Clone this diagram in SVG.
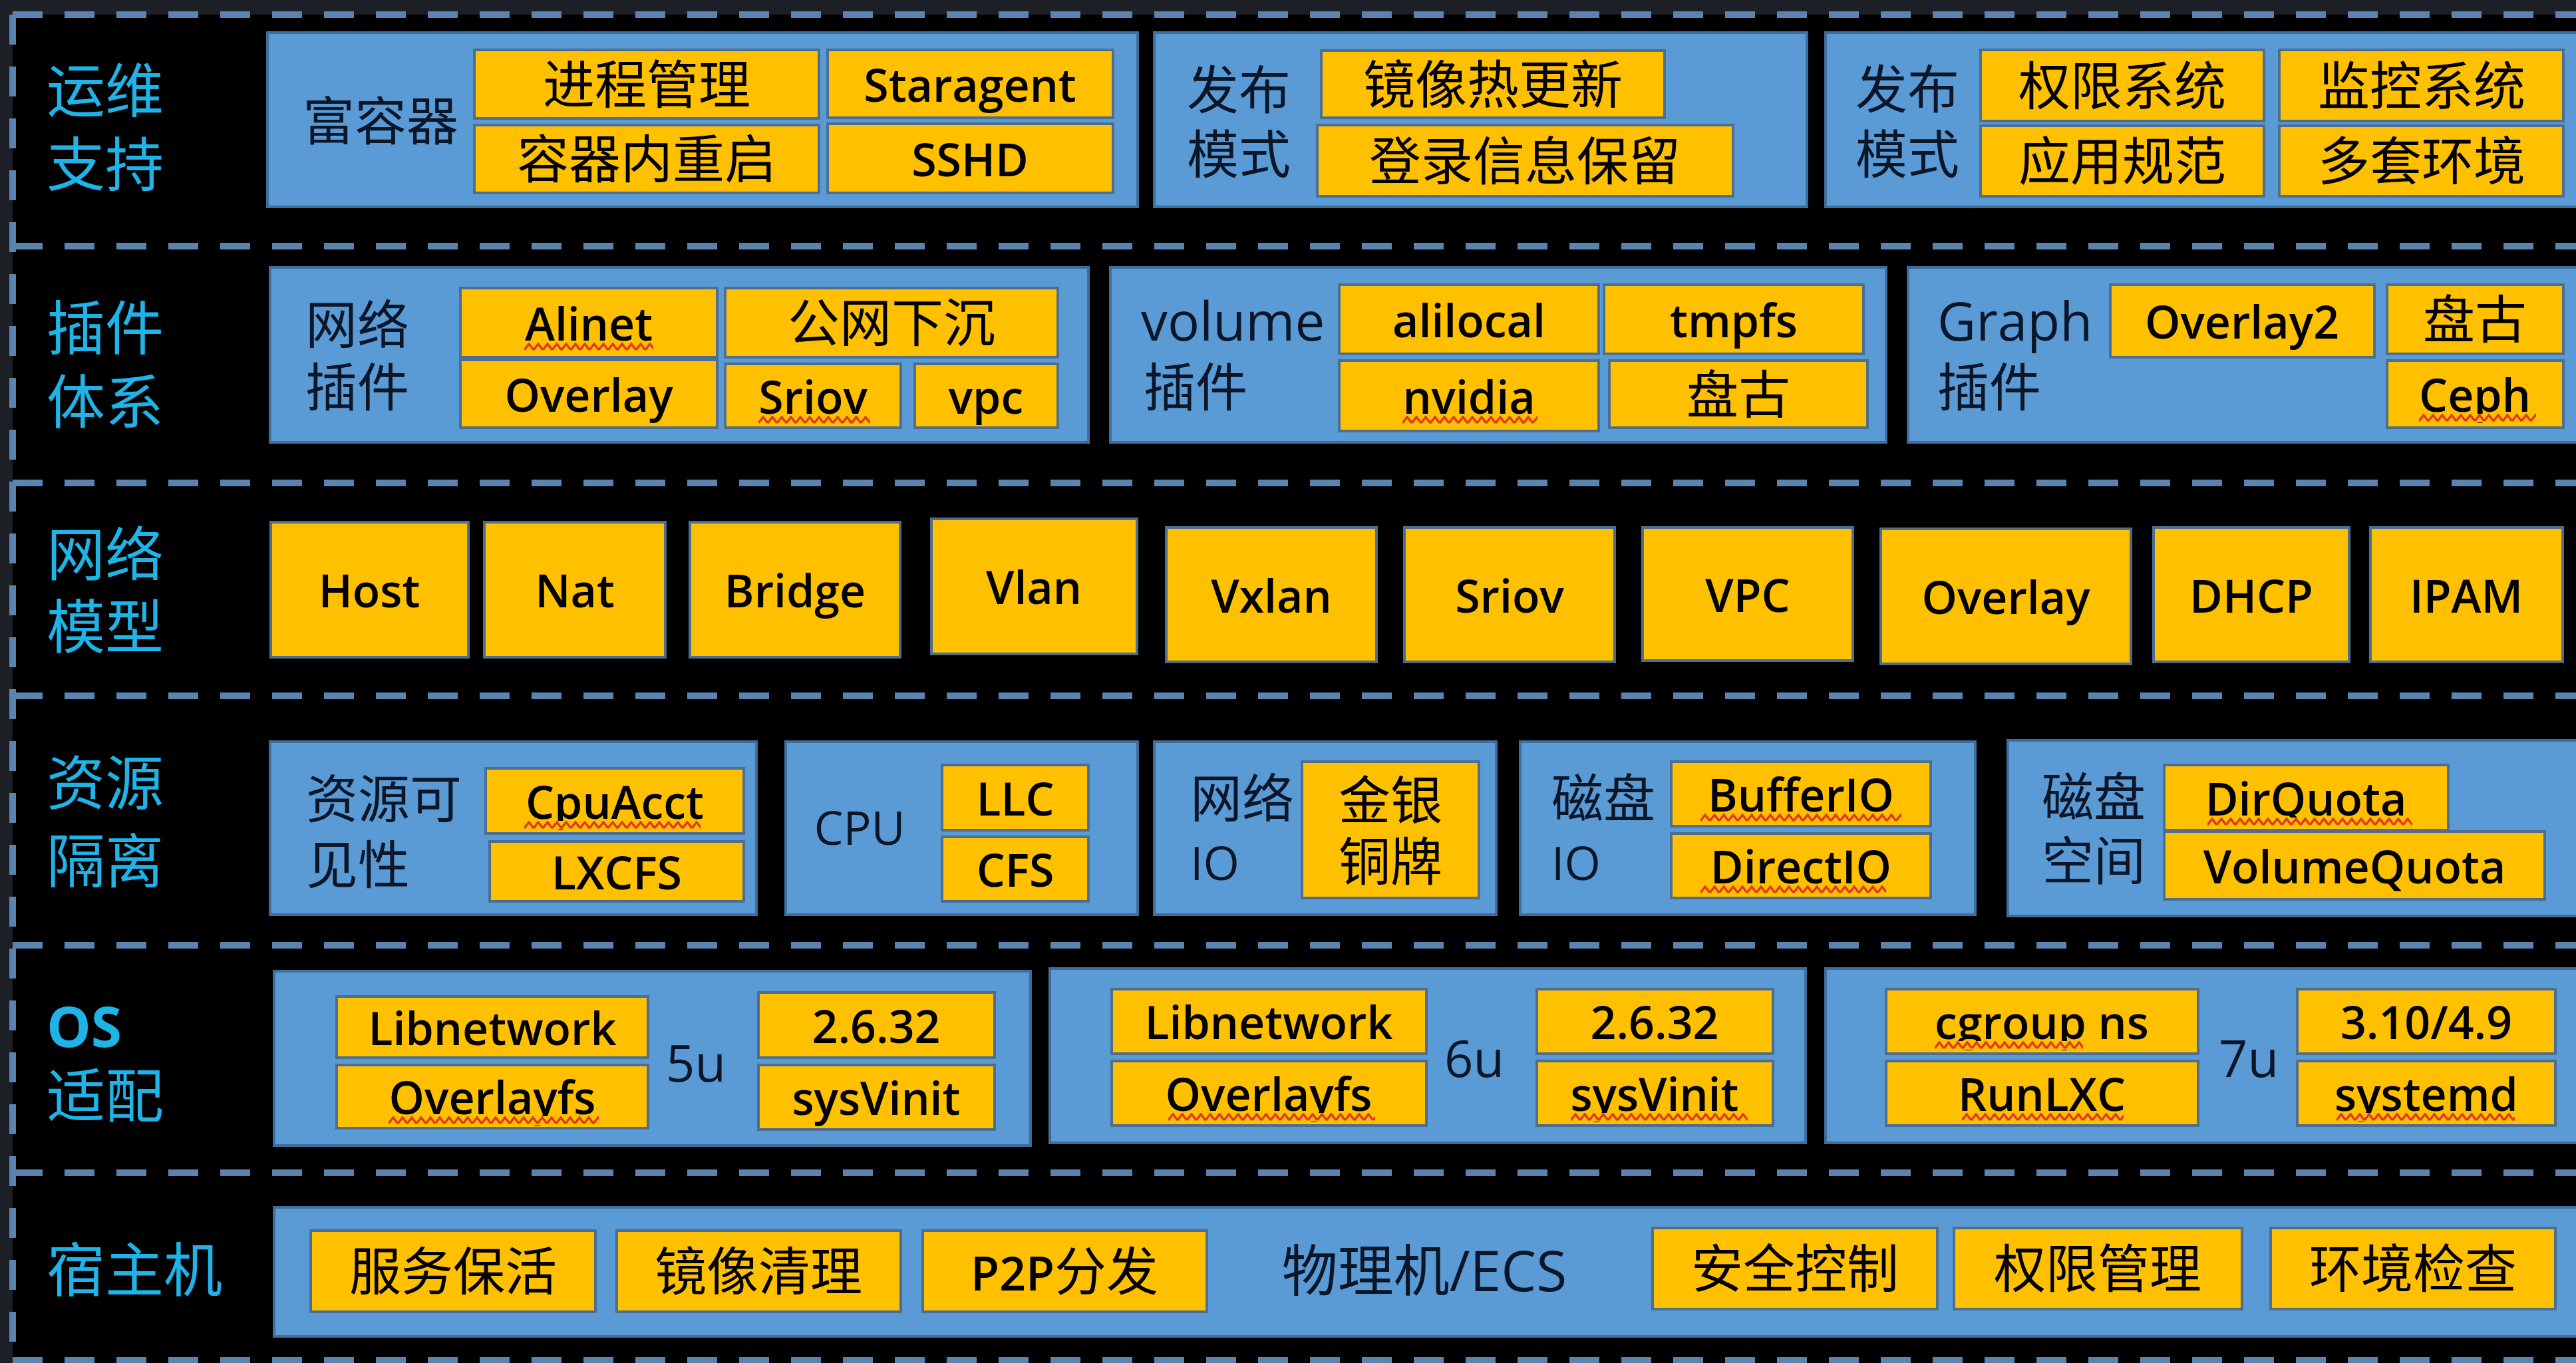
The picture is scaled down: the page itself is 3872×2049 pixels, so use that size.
<svg xmlns="http://www.w3.org/2000/svg" width="3872" height="2049" viewBox="0 0 3872 2049">
<defs>
<style>
.panel{fill:#5b9bd5;stroke:#3f6e9c;stroke-width:4}
.box{fill:#ffc000;stroke:#4b6e92;stroke-width:4}
.sec{font-family:'Noto Sans CJK SC',sans-serif;font-size:88px;fill:#1fb3e8}
.secb{font-family:'Open Sans','Noto Sans CJK SC',sans-serif;font-size:84px;font-weight:700;fill:#1fb3e8}
.lbl{font-family:'Open Sans','Noto Sans CJK SC',sans-serif;font-size:78px;fill:#0b1628}
.lbll{font-family:'Open Sans','Noto Sans CJK SC',sans-serif;font-size:80px;font-weight:500;fill:#0b1628}
.c{font-family:'Noto Sans CJK SC',sans-serif;font-size:78px;fill:#000;text-anchor:middle}
.l{font-family:'Open Sans','Noto Sans CJK SC',sans-serif;font-size:68px;font-weight:600;fill:#000;text-anchor:middle}
.lt{font-family:'Open Sans',sans-serif;font-size:70px;font-weight:600}
.sep{stroke:#5a83b0;stroke-width:10;stroke-dasharray:45 33;fill:none}
</style>
<pattern id="sq" patternUnits="userSpaceOnUse" width="14" height="13">
<rect width="14" height="13" fill="#ffc000"/>
<polyline points="0,11 7,2 14,11" fill="none" stroke="#e2391e" stroke-width="3.5"/>
</pattern>
</defs>
<rect width="3872" height="2049" fill="#1d1f26"/>
<rect x="19" y="22" width="3853" height="2027" fill="#000"/>

<g id="separators" class="sep">
<path d="M19 22H3872M19 370H3872M19 726H3872M19 1046H3872M19 1421H3872M19 1763H3872M19 2045H3872M19 22V2049"/>
</g>

<!-- Row 1 -->
<g id="sec-ops"><text class="sec" x="70" y="168">运维</text><text class="sec" x="70" y="279">支持</text></g>
<g id="rich-container">
<rect class="panel" x="402" y="49" width="1308" height="262"/>
<text class="lbl" x="572" y="211" text-anchor="middle">富容器</text>
<rect class="box" x="713" y="75" width="518" height="103"/><text class="c" x="972" y="156">进程管理</text>
<rect class="box" x="713" y="188" width="518" height="102"/><text class="c" x="972" y="268">容器内重启</text>
<rect class="box" x="1244" y="75" width="429" height="102"/><text class="l" x="1458" y="153">Staragent</text>
<rect class="box" x="1244" y="186" width="429" height="104"/><text class="l" x="1458" y="265">SSHD</text>
</g>
<g id="release-mode-1">
<rect class="panel" x="1735" y="49" width="981" height="262"/>
<text class="lbl" x="1862" y="164" text-anchor="middle">发布</text>
<text class="lbl" x="1862" y="261" text-anchor="middle">模式</text>
<rect class="box" x="1986" y="76" width="516" height="101"/><text class="c" x="2244" y="156">镜像热更新</text>
<rect class="box" x="1980" y="188" width="625" height="107"/><text class="c" x="2292" y="271">登录信息保留</text>
</g>
<g id="release-mode-2">
<rect class="panel" x="2744" y="49" width="1140" height="262"/>
<text class="lbl" x="2867" y="163" text-anchor="middle">发布</text>
<text class="lbl" x="2867" y="261" text-anchor="middle">模式</text>
<rect class="box" x="2977" y="75" width="426" height="107"/><text class="c" x="3190" y="158">权限系统</text>
<rect class="box" x="3426" y="75" width="427" height="107"/><text class="c" x="3640" y="158">监控系统</text>
<rect class="box" x="2977" y="189" width="426" height="106"/><text class="c" x="3190" y="271">应用规范</text>
<rect class="box" x="3426" y="189" width="427" height="106"/><text class="c" x="3640" y="271">多套环境</text>
</g>

<!-- Row 2 -->
<g id="sec-plugin"><text class="sec" x="70" y="525">插件</text><text class="sec" x="70" y="636">体系</text></g>
<g id="net-plugin">
<rect class="panel" x="406" y="402" width="1230" height="263"/>
<text class="lbl" x="537" y="517" text-anchor="middle">网络</text>
<text class="lbl" x="537" y="611" text-anchor="middle">插件</text>
<rect class="box" x="692" y="433" width="386" height="104"/><text class="l" x="885" y="512">Alinet</text>
<rect transform="translate(788,515)" width="194" height="13" fill="url(#sq)"/>
<rect class="box" x="692" y="541" width="386" height="102"/><text class="l" x="885" y="619">Overlay</text>
<rect class="box" x="1090" y="433" width="500" height="104"/><text class="c" x="1340" y="514">公网下沉</text>
<rect class="box" x="1090" y="547" width="264" height="96"/><text class="l" x="1222" y="622">Sriov</text>
<rect transform="translate(1140,625)" width="168" height="13" fill="url(#sq)"/>
<rect class="box" x="1375" y="547" width="215" height="96"/><text class="l" x="1482" y="622">vpc</text>
</g>
<g id="volume-plugin">
<rect class="panel" x="1669" y="402" width="1166" height="263"/>
<text class="lbll" x="1715" y="512">volume</text>
<text class="lbl" x="1719" y="611">插件</text>
<rect class="box" x="2013" y="428" width="390" height="104"/><text class="l" x="2208" y="507">alilocal</text>
<rect class="box" x="2013" y="542" width="390" height="106"/><text class="l" x="2208" y="622">nvidia</text>
<rect transform="translate(2108,625)" width="203" height="13" fill="url(#sq)"/>
<rect class="box" x="2411" y="428" width="390" height="104"/><text class="l" x="2606" y="507">tmpfs</text>
<rect class="box" x="2419" y="542" width="388" height="101"/><text class="c" x="2613" y="622">盘古</text>
</g>
<g id="graph-plugin">
<rect class="panel" x="2868" y="402" width="1016" height="263"/>
<text class="lbll" x="2912" y="512">Graph</text>
<text class="lbl" x="2912" y="611">插件</text>
<rect class="box" x="3172" y="428" width="397" height="109"/><text class="l" x="3370" y="509">Overlay2</text>
<rect class="box" x="3588" y="428" width="265" height="104"/><text class="c" x="3720" y="509">盘古</text>
<rect class="box" x="3588" y="542" width="265" height="101"/><text class="l" x="3720" y="619">Ceph</text>
<rect transform="translate(3636,622)" width="176" height="13" fill="url(#sq)"/>
</g>

<!-- Row 3 -->
<g id="sec-netmodel"><text class="sec" x="70" y="865">网络</text><text class="sec" x="70" y="974">模型</text></g>
<g id="nm-host"><rect class="box" x="407" y="785" width="297" height="203"/><text class="l" x="555" y="913">Host</text></g>
<g id="nm-nat"><rect class="box" x="728" y="785" width="272" height="203"/><text class="l" x="864" y="913">Nat</text></g>
<g id="nm-bridge"><rect class="box" x="1037" y="785" width="316" height="203"/><text class="l" x="1195" y="913">Bridge</text></g>
<g id="nm-vlan"><rect class="box" x="1400" y="780" width="309" height="203"/><text class="l" x="1554" y="908">Vlan</text></g>
<g id="nm-vxlan"><rect class="box" x="1753" y="793" width="316" height="202"/><text class="l" x="1911" y="921">Vxlan</text></g>
<g id="nm-sriov"><rect class="box" x="2111" y="793" width="316" height="202"/><text class="l" x="2269" y="921">Sriov</text></g>
<g id="nm-vpc"><rect class="box" x="2469" y="793" width="316" height="200"/><text class="l" x="2627" y="920">VPC</text></g>
<g id="nm-overlay"><rect class="box" x="2827" y="795" width="376" height="203"/><text class="l" x="3015" y="923">Overlay</text></g>
<g id="nm-dhcp"><rect class="box" x="3237" y="793" width="294" height="202"/><text class="l" x="3384" y="921">DHCP</text></g>
<g id="nm-ipam"><rect class="box" x="3563" y="793" width="289" height="202"/><text class="l" x="3707" y="921">IPAM</text></g>

<!-- Row 4 -->
<g id="sec-isolation"><text class="sec" x="70" y="1209">资源</text><text class="sec" x="70" y="1326">隔离</text></g>
<g id="res-visibility">
<rect class="panel" x="406" y="1115" width="731" height="260"/>
<text class="lbl" x="460" y="1230">资源可</text>
<text class="lbl" x="460" y="1329">见性</text>
<rect class="box" x="730" y="1155" width="388" height="98"/><text class="l" x="924" y="1231">CpuAcct</text>
<rect transform="translate(788,1234)" width="265" height="13" fill="url(#sq)"/>
<rect class="box" x="736" y="1265" width="382" height="90"/><text class="l" x="927" y="1337">LXCFS</text>
</g>
<g id="cpu">
<rect class="panel" x="1181" y="1115" width="529" height="260"/>
<text class="lbll" x="1292" y="1270" text-anchor="middle" style="font-size:70px">CPU</text>
<rect class="box" x="1416" y="1150" width="220" height="98"/><text class="l" x="1526" y="1226">LLC</text>
<rect class="box" x="1416" y="1258" width="220" height="97"/><text class="l" x="1526" y="1333">CFS</text>
</g>
<g id="net-io">
<rect class="panel" x="1735" y="1115" width="514" height="260"/>
<text class="lbl" x="1789" y="1229">网络</text>
<text class="lbll" x="1789" y="1323" style="font-size:70px">IO</text>
<rect class="box" x="1957" y="1145" width="266" height="205"/>
<text class="c" x="2090" y="1232">金银</text>
<text class="c" x="2090" y="1324">铜牌</text>
</g>
<g id="disk-io">
<rect class="panel" x="2285" y="1115" width="684" height="260"/>
<text class="lbl" x="2332" y="1229">磁盘</text>
<text class="lbll" x="2332" y="1323" style="font-size:70px">IO</text>
<rect class="box" x="2512" y="1145" width="390" height="97"/><text class="l" x="2707" y="1220">BufferIO</text>
<rect transform="translate(2556,1223)" width="302" height="13" fill="url(#sq)"/>
<rect class="box" x="2512" y="1253" width="390" height="97"/><text class="l" x="2707" y="1328">DirectIO</text>
<rect transform="translate(2556,1331)" width="279" height="13" fill="url(#sq)"/>
</g>
<g id="disk-space">
<rect class="panel" x="3018" y="1113" width="866" height="264"/>
<text class="lbl" x="3069" y="1227">磁盘</text>
<text class="lbl" x="3069" y="1323">空间</text>
<rect class="box" x="3253" y="1150" width="427" height="98"/><text class="l" x="3466" y="1226">DirQuota</text>
<rect transform="translate(3318,1229)" width="308" height="13" fill="url(#sq)"/>
<rect class="box" x="3253" y="1250" width="572" height="102"/><text class="l" x="3539" y="1328">VolumeQuota</text>
</g>

<!-- Row 5 -->
<g id="sec-os"><text class="secb" x="70" y="1574">OS</text><text class="sec" x="70" y="1679">适配</text></g>
<g id="os-5u">
<rect class="panel" x="412" y="1460" width="1137" height="262"/>
<rect class="box" x="506" y="1498" width="468" height="92"/><text class="l" x="740" y="1571">Libnetwork</text>
<rect class="box" x="506" y="1601" width="468" height="95"/><text class="l" x="740" y="1675">Overlayfs</text>
<rect transform="translate(584,1678)" width="316" height="13" fill="url(#sq)"/>
<text class="lbll" x="1046" y="1626" text-anchor="middle" style="font-size:76px">5u</text>
<rect class="box" x="1140" y="1492" width="355" height="98"/><text class="l" x="1317" y="1568">2.6.32</text>
<rect class="box" x="1140" y="1601" width="355" height="97"/><text class="l" x="1317" y="1676">sysVinit</text>
</g>
<g id="os-6u">
<rect class="panel" x="1578" y="1456" width="1136" height="262"/>
<rect class="box" x="1671" y="1487" width="473" height="97"/><text class="l" x="1907" y="1562">Libnetwork</text>
<rect class="box" x="1671" y="1595" width="473" height="97"/><text class="l" x="1907" y="1670">Overlayfs</text>
<rect transform="translate(1756,1673)" width="311" height="13" fill="url(#sq)"/>
<text class="lbll" x="2216" y="1619" text-anchor="middle" style="font-size:76px">6u</text>
<rect class="box" x="2310" y="1487" width="355" height="97"/><text class="l" x="2487" y="1562">2.6.32</text>
<rect class="box" x="2310" y="1595" width="355" height="97"/><text class="l" x="2487" y="1670">sysVinit</text>
<rect transform="translate(2361,1673)" width="266" height="13" fill="url(#sq)"/>
</g>
<g id="os-7u">
<rect class="panel" x="2744" y="1456" width="1140" height="262"/>
<rect class="box" x="2835" y="1487" width="469" height="97"/><text class="l" x="3069" y="1562">cgroup ns</text>
<rect transform="translate(2908,1565)" width="223" height="13" fill="url(#sq)"/>
<rect class="box" x="2835" y="1595" width="469" height="97"/><text class="l" x="3069" y="1670">RunLXC</text>
<rect transform="translate(2949,1673)" width="243" height="13" fill="url(#sq)"/>
<text class="lbll" x="3380" y="1619" text-anchor="middle" style="font-size:76px">7u</text>
<rect class="box" x="3453" y="1487" width="388" height="97"/><text class="l" x="3647" y="1562">3.10/4.9</text>
<rect class="box" x="3453" y="1595" width="388" height="97"/><text class="l" x="3647" y="1670">systemd</text>
<rect transform="translate(3512,1673)" width="268" height="13" fill="url(#sq)"/>
</g>

<!-- Row 6 -->
<g id="sec-host"><text class="sec" x="70" y="1941">宿主机</text></g>
<g id="host-machine">
<rect class="panel" x="412" y="1815" width="3472" height="194"/>
<rect class="box" x="467" y="1850" width="428" height="122"/><text class="c" x="681" y="1940">服务保活</text>
<rect class="box" x="927" y="1850" width="427" height="122"/><text class="c" x="1140" y="1940">镜像清理</text>
<rect class="box" x="1387" y="1850" width="427" height="122"/><text class="c" x="1600" y="1940"><tspan class="lt">P2P</tspan>分发</text>
<text class="lbl" x="2141" y="1941" text-anchor="middle" style="font-size:84px">物理机/ECS</text>
<rect class="box" x="2484" y="1846" width="428" height="122"/><text class="c" x="2698" y="1936">安全控制</text>
<rect class="box" x="2937" y="1846" width="433" height="122"/><text class="c" x="3153" y="1936">权限管理</text>
<rect class="box" x="3413" y="1846" width="428" height="122"/><text class="c" x="3627" y="1936">环境检查</text>
</g>
</svg>
